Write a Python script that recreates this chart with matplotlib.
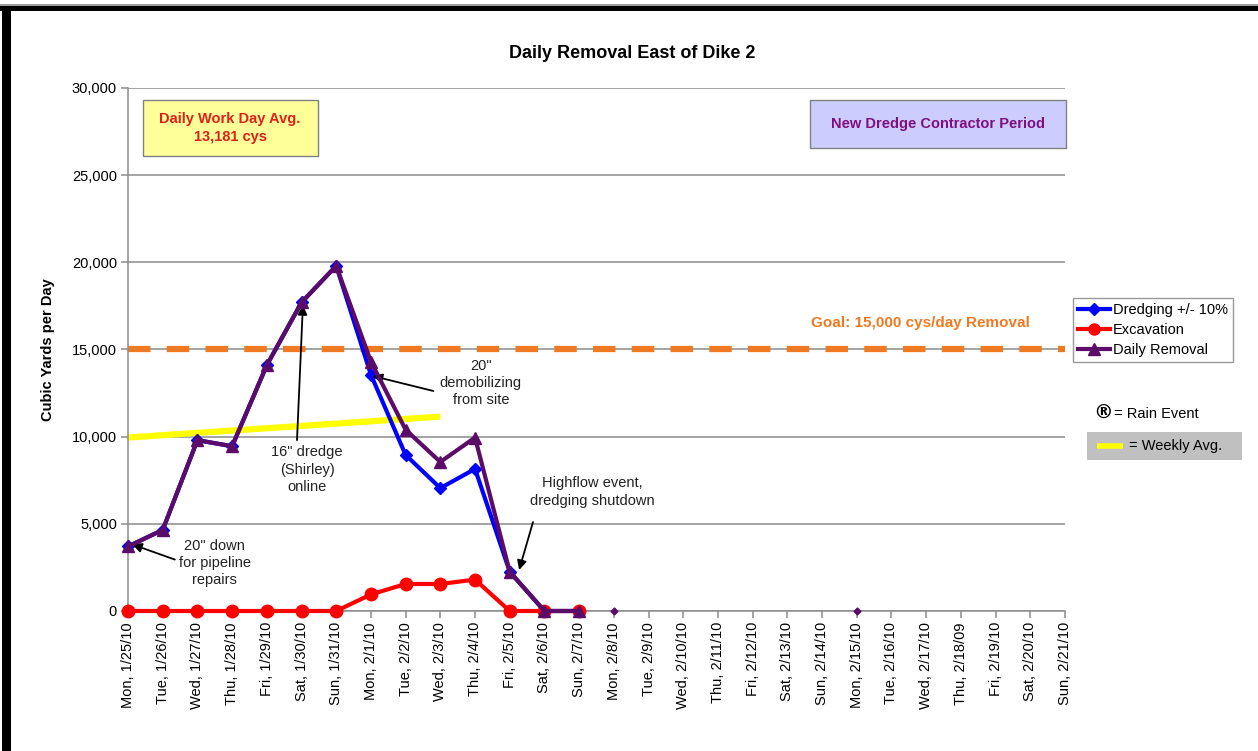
import numpy as np
import matplotlib
matplotlib.use('Agg')
import matplotlib.pyplot as plt
from matplotlib.patches import Rectangle
from matplotlib.lines import Line2D

plt.rcParams['font.family'] = ['Liberation Sans', 'DejaVu Sans']

dates = ['Mon, 1/25/10', 'Tue, 1/26/10', 'Wed, 1/27/10', 'Thu, 1/28/10', 'Fri, 1/29/10',
         'Sat, 1/30/10', 'Sun, 1/31/10', 'Mon, 2/1/10', 'Tue, 2/2/10', 'Wed, 2/3/10',
         'Thu, 2/4/10', 'Fri, 2/5/10', 'Sat, 2/6/10', 'Sun, 2/7/10', 'Mon, 2/8/10',
         'Tue, 2/9/10', 'Wed, 2/10/10', 'Thu, 2/11/10', 'Fri, 2/12/10', 'Sat, 2/13/10',
         'Sun, 2/14/10', 'Mon, 2/15/10', 'Tue, 2/16/10', 'Wed, 2/17/10', 'Thu, 2/18/09',
         'Fri, 2/19/10', 'Sat, 2/20/10', 'Sun, 2/21/10']

# values for the first 14 days (rest of the period has no data)
dredging = [3700, 4650, 9800, 9450, 14100, 17700, 19800, 13550, 8950, 7050, 8150, 2250, 0, 0]
excavation = [0, 0, 0, 0, 0, 0, 0, 950, 1550, 1550, 1800, 0, 0, 0]
daily_removal = [3700, 4650, 9800, 9450, 14100, 17700, 19800, 14300, 10400, 8550, 9950, 2250, 0, 0]

# stray zero points shown on 2/8 and 2/15
stray_idx = [14, 21]
stray_val = [0, 0]

weekly_idx = [0, 9]
weekly_avg = [9950, 11150]

goal = 15000

W, H = 1258, 751
fig = plt.figure(figsize=(W / 100, H / 100), dpi=100)
ax = fig.add_axes([128 / W, 1 - 611 / H, (1065 - 128) / W, (611 - 88) / H])

x = np.arange(len(dates))
n = len(dredging)

ax.set_xlim(0, len(dates) - 1)
ax.set_ylim(0, 30000)
ax.set_yticks(np.arange(0, 30001, 5000))
ax.set_yticklabels(['{:,}'.format(v) for v in range(0, 30001, 5000)], fontsize=10.5)
ax.set_xticks(x)
ax.set_xticklabels(dates, rotation=90, fontsize=10.5)
ax.grid(axis='y', color='#8c8c8c', lw=1.1)
ax.set_axisbelow(True)
for s in ['top', 'right']:
    ax.spines[s].set_visible(False)
for s in ['left', 'bottom']:
    ax.spines[s].set_color('#8c8c8c')
    ax.spines[s].set_linewidth(1.1)
ax.tick_params(axis='both', color='#8c8c8c', length=5, width=1.1, pad=3)

# goal line
ax.axhline(goal, color='#F07A22', lw=4.5, dashes=(3.6, 2.6), zorder=2)

# weekly average
ax.plot(weekly_idx, weekly_avg, color='#FFFF00', lw=4.5, zorder=2, solid_capstyle='butt')

purple = '#5A0C68'
ax.plot(x[:n], dredging, color='#0000FF', lw=3, marker='D', ms=6, zorder=3, clip_on=False)
ax.plot(x[:n], excavation, color='#FF0000', lw=3, marker='o', ms=9, zorder=4, clip_on=False)
ax.plot(x[:n], daily_removal, color=purple, lw=3, marker='^', ms=8, zorder=5, clip_on=False)
ax.plot(stray_idx, stray_val, ls='none', marker='D', ms=3.5, color=purple, zorder=5, clip_on=False)

ax.set_ylabel('Cubic Yards per Day', fontsize=10.5, fontweight='bold', labelpad=12)

# annotations
txt_col = '#222222'
arrow = dict(arrowstyle='-|>', color='black', lw=1.3, mutation_scale=14, shrinkA=0, shrinkB=0)
ax.text(2.5, 2750, '20" down\nfor pipeline\nrepairs', ha='center', va='center', fontsize=10.5,
        color=txt_col, linespacing=1.3)
ax.annotate('', xy=(0.12, 3820), xytext=(1.35, 2950), arrowprops=arrow)
ax.text(5.16, 8100, '16" dredge\n(Shirley)\nonline', ha='center', va='center', fontsize=10.5,
        color=txt_col, linespacing=1.3)
ax.annotate('', xy=(5.04, 17550), xytext=(4.87, 9800), arrowprops=arrow)
ax.text(10.17, 13080, '20"\ndemobilizing\nfrom site', ha='center', va='center', fontsize=10.5,
        color=txt_col, linespacing=1.3)
ax.annotate('', xy=(7.05, 13480), xytext=(8.8, 12620), arrowprops=arrow)
ax.text(13.37, 6830, 'Highflow event,\ndredging shutdown', ha='center', va='center', fontsize=10.5,
        color=txt_col, linespacing=1.3)
ax.annotate('', xy=(11.27, 2350), xytext=(11.67, 5100), arrowprops=arrow)

fig.text(920 / W, 1 - 323 / H, 'Goal: 15,000 cys/day Removal', ha='center', va='center',
         fontsize=11, fontweight='bold', color='#F07A22')

# title
fig.text(632 / W, 1 - 53 / H, 'Daily Removal East of Dike 2', ha='center', va='center',
         fontsize=13, fontweight='bold')


def fig_rect(x0, y0, x1, y1, **kw):
    fig.patches.append(Rectangle((x0 / W, 1 - y1 / H), (x1 - x0) / W, (y1 - y0) / H,
                                 transform=fig.transFigure, **kw))


# text boxes
fig_rect(143, 100, 318, 156, facecolor='#FFFF99', edgecolor='#808080', lw=1)
fig.text(230 / W, 1 - 128 / H, 'Daily Work Day Avg.\n13,181 cys', ha='center', va='center',
         fontsize=10.5, fontweight='bold', color='#E0201B', linespacing=1.35)
fig_rect(810, 100, 1066, 148, facecolor='#CCCCFF', edgecolor='#808080', lw=1)
fig.text(938 / W, 1 - 124 / H, 'New Dredge Contractor Period', ha='center', va='center',
         fontsize=10.5, fontweight='bold', color='#7F0F7F')

# legend
handles = [Line2D([], [], color='#0000FF', lw=3, marker='D', ms=6),
           Line2D([], [], color='#FF0000', lw=3, marker='o', ms=8),
           Line2D([], [], color=purple, lw=3, marker='^', ms=8)]
leg = fig.legend(handles, ['Dredging +/- 10%', 'Excavation', 'Daily Removal'],
                 loc='upper left', bbox_to_anchor=(1073 / W, 1 - 298 / H), fontsize=10.5,
                 frameon=True, fancybox=False, edgecolor='#808080', handlelength=2.2,
                 handletextpad=0.2, borderpad=0.35, labelspacing=0.4, borderaxespad=0)
leg.get_frame().set_linewidth(1)

fig.text(1093 / W, 1 - 413 / H, '\u00ae', ha='left', va='center', fontsize=14, fontweight='bold',
         family='DejaVu Sans')
fig.text(1114 / W, 1 - 414 / H, '= Rain Event', ha='left', va='center', fontsize=10.5)
fig_rect(1087, 432, 1242, 460, facecolor='#C0C0C0', edgecolor='none')
fig.lines.append(Line2D([1097 / W, 1123 / W], [1 - 446 / H, 1 - 446 / H], color='#FFFF00', lw=4,
                       transform=fig.transFigure, solid_capstyle='butt'))
fig.text(1129 / W, 1 - 446 / H, '= Weekly Avg.', ha='left', va='center', fontsize=10.5)

# outer frame (top and left edges)
fig_rect(0, 4, W, 6, facecolor='#9a9a9a', edgecolor='none')
fig_rect(0, 6, W, 11, facecolor='black', edgecolor='none')
fig_rect(2, 6, 11, H, facecolor='black', edgecolor='none')

fig.savefig('out.png', dpi=100)
